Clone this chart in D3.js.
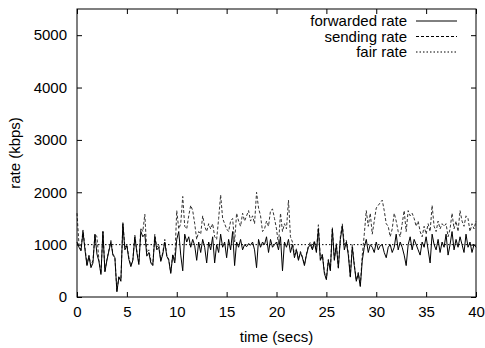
<!DOCTYPE html>
<html>
<head>
<meta charset="utf-8">
<script src="https://cdn.jsdelivr.net/npm/d3@7"></script>
<style>
  body { margin: 0; background: #fff; }
  text { font-family: "Liberation Sans", Arial, sans-serif; }
</style>
</head>
<body>
<div id="chart"></div>
<script>
// sample grid, 0.2 s steps from 0 to 40 s
var times = d3.range(0, 40.001, 0.2);

var forwardedRate = [
  1050, 950, 880, 1250, 900, 600, 780, 560, 650, 1200,
  820, 680, 430, 1250, 480, 700, 880, 1050, 800, 750,
  100, 380, 300, 1400, 900, 980, 720, 580, 700, 1150,
  850, 620, 1250, 1150, 1200, 780, 850, 650, 600, 1150,
  900, 950, 680, 820, 1050, 780, 700, 450, 800, 650,
  1100, 1250, 800, 500, 1200, 1050, 1150, 950, 1100, 980,
  700, 1050, 850, 1100, 950, 650, 1050, 900, 1150, 650,
  1000, 850, 1200, 950, 1050, 750, 1100, 900, 1250, 600,
  1050, 950, 1100, 900, 1000, 960, 1020, 990, 1050, 900,
  560, 1100, 950, 1050, 1000, 1150, 850, 1100, 950, 1000,
  1050, 900, 1150, 500, 1050, 950, 1100, 850, 1000, 750,
  900, 700, 850, 750, 600, 800, 950, 1000, 900, 1050,
  850, 1300, 700, 800, 450, 330, 700, 500, 1300, 700,
  1000, 550, 1100, 1350, 900, 1050, 800, 380, 950, 600,
  300, 450, 200, 700, 950, 1100, 850, 1000, 950, 850,
  1050, 900, 980, 1000, 850, 750, 950, 1000, 850, 950,
  1200, 900, 1050, 950, 800, 600, 1000, 1150, 900, 1100,
  1000, 900, 800, 1050, 950, 1150, 900, 650, 1200, 1000,
  900, 1100, 850, 1050, 950, 1200, 800, 1000, 1250, 900,
  1100, 950, 1150, 1000, 850, 1200, 950, 1050, 850, 1000,
  950
];

var sendingRate = [
  1600, 1000, 900, 1280, 950, 620, 800, 600, 700, 1200,
  1150, 700, 450, 1250, 500, 720, 900, 1080, 820, 760,
  110, 400, 320, 1420, 950, 1000, 750, 600, 720, 1180,
  880, 650, 1320, 1250, 1580, 850, 900, 700, 620, 1200,
  950, 1000, 700, 850, 1100, 800, 720, 470, 820, 700,
  1650, 1300, 1400, 1920, 1350, 1300, 1550, 1750, 1650, 1400,
  1100, 1250, 1200, 1550, 1350, 1250, 1400, 1300, 1400, 1150,
  1100, 1500, 1950, 1500, 1400, 1300, 1250, 1450, 1500, 1050,
  1600, 1450, 1350, 1600, 1450, 1550, 1650, 1450, 1550, 1400,
  2000, 1700, 1550, 1250, 1300, 1450, 1350, 1650, 1680, 1500,
  1300, 1000, 1600, 1250, 1400, 1300, 1850, 1150, 1050, 800,
  920, 720, 870, 770, 620, 820, 980, 1050, 920, 1080,
  870, 1380, 720, 820, 480, 350, 720, 520, 1330, 720,
  1020, 570, 1150, 1400, 1000, 1080, 850, 400, 1000, 620,
  320, 470, 220, 800, 1200, 1650, 1350, 1600, 1200, 1450,
  1700, 1750, 1800, 1850, 1650, 1400, 1350, 1150, 1300, 1600,
  1450, 1250, 1150, 1400, 1650, 1250, 1650, 1550, 1600, 1500,
  1350, 1450, 1250, 1150, 1350, 1200, 1400, 1250, 1750, 1350,
  1250, 1450, 1300, 1400, 1350, 1400, 1150, 1300, 1600, 1300,
  1450, 1250, 1650, 1450, 1350, 1550, 1500, 1250, 1400, 1300,
  1450
];

var fairTimes = [0, 40];
var fairRate = [1000, 1000];

var xTicks = [0, 5, 10, 15, 20, 25, 30, 35, 40];
var yTicks = [0, 1000, 2000, 3000, 4000, 5000];
var legendLabels = ["forwarded rate", "sending rate", "fair rate"];

var svgWidth = 485;
var svgHeight = 348;

var margin = { top: 9, right: 9, bottom: 51, left: 77 };
var width = svgWidth - margin.left - margin.right;
var height = svgHeight - margin.top - margin.bottom;

var svg = d3.select("#chart")
  .append("svg")
  .attr("width", svgWidth)
  .attr("height", svgHeight);

var chartGroup = svg.append("g")
  .attr("transform", `translate(${margin.left}, ${margin.top})`);

var xScale = d3.scaleLinear().domain([0, 40]).range([0, width]);
var yScale = d3.scaleLinear().domain([0, 5500]).range([height, 0]);

// axes, gnuplot style: inward ticks on all four sides
var tickLen = 5;
function styleAxis(g) {
  g.select(".domain").remove();
  g.selectAll("line").attr("stroke", "#000");
  g.selectAll("text").attr("font-size", 15).attr("fill", "#000");
}

chartGroup.append("g")
  .attr("transform", `translate(0, ${height})`)
  .call(d3.axisBottom(xScale).tickValues(xTicks).tickSize(-tickLen).tickPadding(9).tickFormat(d3.format("d")))
  .call(styleAxis);

chartGroup.append("g")
  .call(d3.axisTop(xScale).tickValues(xTicks).tickSize(-tickLen).tickFormat(""))
  .call(styleAxis);

chartGroup.append("g")
  .call(d3.axisLeft(yScale).tickValues(yTicks).tickSize(-tickLen).tickPadding(10).tickFormat(d3.format("d")))
  .call(styleAxis);

chartGroup.append("g")
  .attr("transform", `translate(${width}, 0)`)
  .call(d3.axisRight(yScale).tickValues(yTicks).tickSize(-tickLen).tickFormat(""))
  .call(styleAxis);

var lineGen = d3.line()
  .x(d => xScale(d[0]))
  .y(d => yScale(d[1]));

var fairData = fairTimes.map((t, i) => [t, fairRate[i]]);
var sendData = times.map((t, i) => [t, sendingRate[i]]);
var fwdData = times.map((t, i) => [t, forwardedRate[i]]);

chartGroup.append("path")
  .attr("d", lineGen(fairData))
  .attr("fill", "none")
  .attr("stroke", "#000")
  .attr("stroke-width", 1)
  .attr("stroke-dasharray", "1.5,2");

chartGroup.append("path")
  .attr("d", lineGen(sendData))
  .attr("fill", "none")
  .attr("stroke", "#333")
  .attr("stroke-width", 1)
  .attr("stroke-dasharray", "3,2");

chartGroup.append("path")
  .attr("d", lineGen(fwdData))
  .attr("fill", "none")
  .attr("stroke", "#000")
  .attr("stroke-width", 1);

// frame
chartGroup.append("rect")
  .attr("width", width)
  .attr("height", height)
  .attr("fill", "none")
  .attr("stroke", "#000")
  .attr("stroke-width", 1);

// legend
var dashes = [null, "3,2", "1.5,2"];
var legend = chartGroup.selectAll(".legend").data(legendLabels).enter()
  .append("g")
  .attr("transform", (d, i) => `translate(0, ${12 + i * 15.5})`);

legend.append("text")
  .attr("x", 330)
  .attr("y", 5)
  .attr("text-anchor", "end")
  .attr("font-size", 15)
  .text(d => d);

legend.append("line")
  .attr("x1", 339)
  .attr("x2", 380)
  .attr("y1", 0)
  .attr("y2", 0)
  .attr("stroke", "#000")
  .attr("stroke-width", 1)
  .attr("stroke-dasharray", (d, i) => dashes[i]);

// axis labels
chartGroup.append("text")
  .attr("transform", "rotate(-90)")
  .attr("x", -height / 2)
  .attr("y", -57)
  .attr("text-anchor", "middle")
  .attr("font-size", 15)
  .text("rate (kbps)");

chartGroup.append("text")
  .attr("x", width / 2)
  .attr("y", height + 45)
  .attr("text-anchor", "middle")
  .attr("font-size", 15)
  .text("time (secs)");
</script>
</body>
</html>
